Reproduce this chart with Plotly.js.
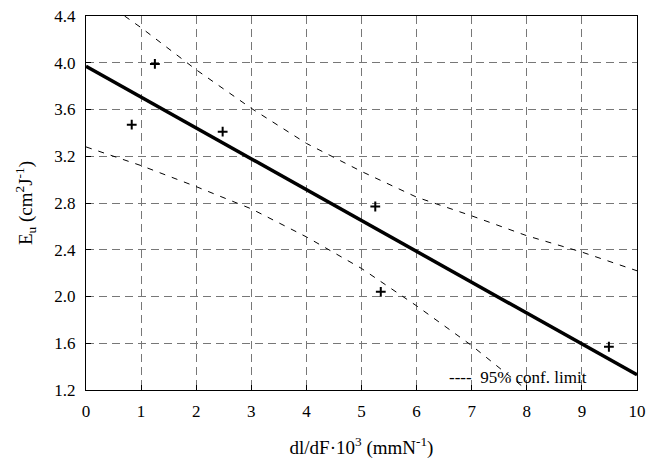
<!DOCTYPE html>
<html>
<head>
<meta charset="utf-8">
<script src="https://cdn.plot.ly/plotly-3.0.1.min.js"></script>
<style>html,body{margin:0;padding:0;background:#fff;}#chart{width:646px;height:471px;}</style>
</head>
<body>
<div id="chart"></div>
<script>
// Measured points
var pointsX = [0.83, 1.25, 2.48, 5.25, 5.35, 9.49];
var pointsY = [3.47, 3.99, 3.41, 2.77, 2.04, 1.57];
// Regression line
var fitX = [0, 10];
var fitY = [3.97, 1.33];
// 95% confidence limits
var upperX = [0.7, 1, 2, 3, 4, 5, 6, 7, 8, 9, 10];
var upperY = [4.40, 4.30, 3.94, 3.61, 3.31, 3.07, 2.85, 2.69, 2.52, 2.38, 2.22];
var lowerX = [0, 1, 2, 3, 4, 5, 6, 7, 8];
var lowerY = [3.28, 3.12, 2.94, 2.75, 2.51, 2.24, 1.92, 1.58, 1.20];
var xTicks = [0,1,2,3,4,5,6,7,8,9,10];
var yTicks = [1.2,1.6,2.0,2.4,2.8,3.2,3.6,4.0,4.4];

var serif = "Liberation Serif, Times New Roman, serif";
var traces = [
  {x: upperX, y: upperY, mode: 'lines', line: {color: '#000', width: 1, dash: '6px,7px'}, hoverinfo: 'skip'},
  {x: lowerX, y: lowerY, mode: 'lines', line: {color: '#000', width: 1, dash: '6px,7px'}, hoverinfo: 'skip'},
  {x: fitX, y: fitY, mode: 'lines', line: {color: '#000', width: 3.5}},
  {x: pointsX, y: pointsY, mode: 'markers', marker: {symbol: 'cross-thin', size: 7, color: '#000', line: {color: '#000', width: 2}}}
];
var layout = {
  width: 646, height: 471,
  margin: {l: 86, r: 9, t: 16, b: 81},
  showlegend: false,
  paper_bgcolor: '#fff', plot_bgcolor: '#fff',
  font: {family: serif, color: '#000', size: 17},
  xaxis: {
    range: [0, 10], tickvals: xTicks, ticktext: xTicks.map(String),
    showgrid: true, gridcolor: '#777', griddash: '8px,5px', gridwidth: 1,
    showline: true, linecolor: '#000', linewidth: 1, mirror: true,
    ticks: 'inside', ticklen: 5, tickcolor: '#000', zeroline: false,
    tickfont: {family: serif, size: 17}, ticklabelstandoff: 6,
    title: {text: 'dl/dF·10<sup>3</sup> (mmN<sup>-1</sup>)', font: {family: serif, size: 19}, standoff: 20}
  },
  yaxis: {
    range: [1.2, 4.4], tickvals: yTicks, ticktext: yTicks.map(function(v){return v.toFixed(1);}),
    showgrid: true, gridcolor: '#777', griddash: '8px,5px', gridwidth: 1,
    showline: true, linecolor: '#000', linewidth: 1, mirror: true,
    ticks: 'inside', ticklen: 5, tickcolor: '#000', zeroline: false,
    tickfont: {family: serif, size: 17}, ticklabelstandoff: 6,
    title: {text: 'E<sub>u</sub> (cm<sup>2</sup>J<sup>-1</sup>)', font: {family: serif, size: 19}, standoff: 16}
  },
  annotations: [{
    xref: 'paper', yref: 'paper', x: 0.913, y: 0.033, xanchor: 'right', yanchor: 'middle',
    text: '----  95% conf. limit', showarrow: false, font: {family: serif, size: 17, color: '#000'}
  }]
};
Plotly.newPlot('chart', traces, layout, {displayModeBar: false, staticPlot: true});
</script>
</body>
</html>
